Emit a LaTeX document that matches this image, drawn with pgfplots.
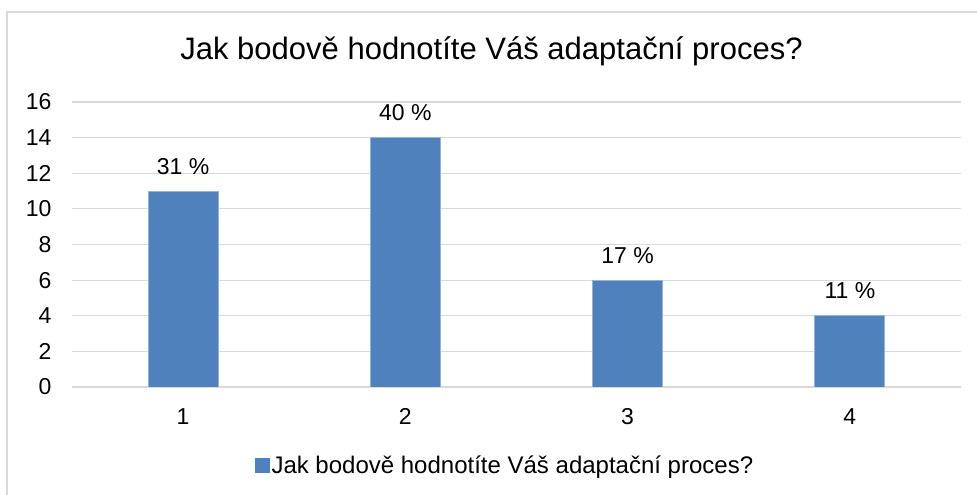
\documentclass[border=0pt]{standalone}
\usepackage{pgfplots}
\pgfplotsset{compat=1.18}
\usepackage{fontspec}
\setmainfont{Liberation Sans}
\definecolor{barblue}{HTML}{4F81BD}
\definecolor{gridgray}{HTML}{D9D9D9}
\begin{document}
\begin{tikzpicture}[x=1pt,y=1pt]
\path[use as bounding box] (0,0) rectangle (977,495);
\draw[gridgray, line width=1.5pt] (7,0) -- (7,483) -- (977,483);
\node[font=\fontsize{31}{36}\selectfont] at (491.5,444) {Jak bodově hodnotíte Váš adaptační proces?};
\begin{axis}[
  at={(72pt,108pt)}, anchor=south west,
  scale only axis, width=889pt, height=285pt,
  xmin=0.5, xmax=4.5, ymin=0, ymax=16,
  ytick={0,2,...,16}, xtick={1,2,3,4},
  ybar, bar width=70pt,
  axis line style={draw=none},
  major tick length=0pt,
  ymajorgrids, grid style={gridgray, line width=1.2pt},
  /pgf/number format/assume math mode=true,
  ticklabel style={font=\fontsize{23}{27}\selectfont},
  yticklabel style={xshift=-17pt},
  xticklabel style={yshift=-18pt},
  nodes near coords, point meta=explicit symbolic,
  nodes near coords style={font=\fontsize{23}{27}\selectfont, anchor=south, yshift=13pt, black},
  legend style={draw=none, at={(0.487,-0.274)}, anchor=center, font=\fontsize{24}{28}\selectfont},
  legend image code/.code={\fill[barblue] (0pt,-7pt) rectangle (14pt,7pt);},
]
\addplot[fill=barblue, draw=barblue!60!white, line width=0.8pt] coordinates {(1,11) [31 \%] (2,14) [40 \%] (3,6) [17 \%] (4,4) [11 \%]};
\addlegendentry{Jak bodově hodnotíte Váš adaptační proces?}
\end{axis}
\end{tikzpicture}
\end{document}
